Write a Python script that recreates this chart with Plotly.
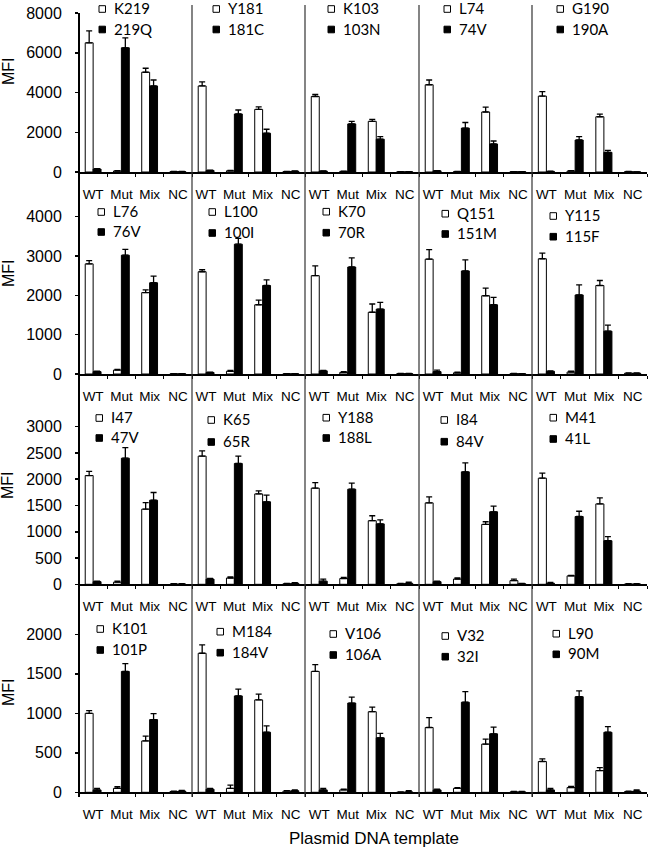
import plotly.graph_objects as go

W, H = 650, 847

categories = ["WT", "Mut", "Mix", "NC"]

wt_labels = ["K219", "Y181", "K103", "L74", "G190",
             "L76", "L100", "K70", "Q151", "Y115",
             "I47", "K65", "Y188", "I84", "M41",
             "K101", "M184", "V106", "V32", "L90"]
mut_labels = ["219Q", "181C", "103N", "74V", "190A",
              "76V", "100I", "70R", "151M", "115F",
              "47V", "65R", "188L", "84V", "41L",
              "101P", "184V", "106A", "32I", "90M"]

# white bars (wild-type probe) per panel: WT, Mut, Mix, NC
white_values = [[6500, 50, 5020, 20], [4330, 60, 3150, 20], [3800, 30, 2550, 10], [4390, 20, 3020, 15], [3820, 50, 2780, 20],
                [2800, 100, 2070, 5], [2600, 70, 1760, 5], [2500, 40, 1570, 10], [2920, 30, 1990, 10], [2930, 50, 2250, 20],
                [2070, 40, 1430, 5], [2440, 120, 1720, 10], [1830, 110, 1210, 10], [1550, 100, 1140, 70], [2020, 160, 1530, 5],
                [1000, 50, 650, 10], [1760, 50, 1170, 15], [1530, 30, 1020, 0], [820, 50, 610, 5], [390, 60, 275, 10]]
white_err = [[600, 20, 200, 10], [200, 20, 130, 10], [100, 10, 100, 5], [240, 10, 240, 5], [220, 20, 130, 5],
             [80, 20, 70, 5], [50, 20, 120, 5], [250, 20, 210, 5], [240, 20, 195, 5], [145, 20, 127, 5],
             [80, 20, 125, 5], [100, 20, 57, 5], [106, 20, 95, 5], [114, 20, 50, 30], [95, 10, 114, 5],
             [35, 20, 60, 5], [105, 40, 72, 5], [85, 10, 59, 5], [126, 10, 63, 5], [34, 15, 38, 5]]

# black bars (mutant probe)
black_values = [[150, 6250, 4330, 20], [80, 2920, 1950, 40], [50, 2420, 1650, 10], [60, 2210, 1410, 15], [30, 1610, 990, 5],
                [60, 3020, 2320, 5], [40, 3300, 2250, 5], [80, 2720, 1650, 10], [60, 2620, 1760, 5], [70, 2010, 1090, 20],
                [50, 2400, 1600, 5], [100, 2300, 1570, 20], [60, 1810, 1150, 20], [50, 2140, 1380, 10], [20, 1290, 830, 5],
                [30, 1530, 920, 15], [40, 1220, 760, 20], [30, 1130, 690, 5], [30, 1140, 740, 5], [30, 1210, 760, 15]]
black_err = [[20, 500, 300, 10], [10, 200, 200, 10], [10, 130, 130, 5], [10, 280, 150, 5], [10, 170, 100, 5],
             [10, 150, 170, 5], [10, 150, 145, 5], [10, 230, 170, 5], [40, 280, 186, 5], [10, 255, 153, 5],
             [10, 200, 147, 5], [10, 140, 127, 10], [40, 114, 76, 20], [10, 171, 108, 5], [15, 100, 76, 5],
             [20, 100, 76, 10], [10, 85, 80, 10], [20, 76, 55, 15], [10, 135, 85, 5], [20, 75, 71, 15]]

row_ymax = [8000, 4500, 3500, 2500]
row_ticks = [[0, 2000, 4000, 6000, 8000], [0, 1000, 2000, 3000, 4000],
             [0, 500, 1000, 1500, 2000, 2500, 3000], [0, 500, 1000, 1500, 2000]]

# ---- layout geometry (page pixels) ----
col_px = [(79, 192), (192, 305), (305, 419), (419, 532), (532, 647)]
row_zero_px = [172, 374, 584.3, 792.3]
row_top_px = [13, 197.0, 400.4, 594.8]
leg_sq_off = [20, 21, 23, 25, 25, 19, 17, 18, 23, 18, 17, 16, 18, 22, 18, 18, 25, 25, 23, 21]
leg_y = [(8, 28.5)] * 5 + [(211, 231), (211, 232), (210.7, 231.7), (212.7, 233), (215, 235.7),
                           (417, 437), (419, 441), (416.7, 437), (419, 440.7), (416.7, 438),
                           (628, 649), (630.7, 651.7), (633, 654), (635, 655.7), (632.7, 653.3)]
mfi_y = [71, 273, 485, 692]

FONT = "Liberation Sans, Arial, sans-serif"
LEGFONT = "Lato, Carlito, sans-serif"

def px_x(p):
    return p / W

def px_y(p):
    return 1 - p / H

fig = go.Figure()
layout = dict(
    width=W, height=H, margin=dict(l=0, r=0, t=0, b=0, autoexpand=False),
    paper_bgcolor="white", plot_bgcolor="white",
    barmode="group", bargap=0.44, bargroupgap=0.0, showlegend=False,
    font=dict(family=FONT, color="black"),
)
shapes = []
annotations = []

for i in range(20):
    r, c = divmod(i, 5)
    n = i + 1
    xa = "x" if n == 1 else f"x{n}"
    ya = "y" if n == 1 else f"y{n}"
    fig.add_trace(go.Bar(
        x=categories, y=white_values[i], xaxis=xa, yaxis=ya,
        marker=dict(color="white", line=dict(color="black", width=1)),
        error_y=dict(type="data", symmetric=False, array=white_err[i], arrayminus=[0] * 4,
                     color="black", thickness=1.3, width=3),
        name=wt_labels[i]))
    fig.add_trace(go.Bar(
        x=categories, y=black_values[i], xaxis=xa, yaxis=ya,
        marker=dict(color="black", line=dict(color="black", width=1)),
        error_y=dict(type="data", symmetric=False, array=black_err[i], arrayminus=[0] * 4,
                     color="black", thickness=1.3, width=3),
        name=mut_labels[i]))
    x0, x1 = col_px[c]
    layout["xaxis" if n == 1 else f"xaxis{n}"] = dict(
        domain=[px_x(x0), px_x(x1)], anchor=ya, type="category",
        range=[-0.5, 3.5], showline=True, linecolor="black", linewidth=1.5,
        ticks="outside", tickson="boundaries", ticklen=3, tickcolor="black",
        tickangle=0, automargin=False, ticklabelstandoff=9,
        tickfont=dict(size=13.5, family=FONT), showgrid=False, zeroline=False,
        fixedrange=True)
    yax = dict(
        domain=[px_y(row_zero_px[r]), px_y(row_top_px[r])], anchor=xa,
        range=[0, row_ymax[r]], showline=False, showgrid=False, zeroline=False,
        automargin=False, fixedrange=True)
    if c == 0:
        yax.update(tickmode="array", tickvals=row_ticks[r],
                   ticktext=[str(v) for v in row_ticks[r]],
                   ticks="outside", ticklen=3, tickcolor="black", tickwidth=1.5,
                   tickfont=dict(size=16, family=FONT), ticklabelstandoff=10)
    else:
        yax.update(showticklabels=False, ticks="")
    layout["yaxis" if n == 1 else f"yaxis{n}"] = yax

    # legend keys
    sx = x0 + leg_sq_off[i]
    ty1, ty2 = leg_y[i]
    for ty, fillc, txt in [(ty1, "white", wt_labels[i]), (ty2, "black", mut_labels[i])]:
        cy = ty + 1
        shapes.append(dict(type="rect", xref="paper", yref="paper",
                           x0=px_x(sx), x1=px_x(sx + 6.5), y0=px_y(cy + 3.3), y1=px_y(cy - 3.3),
                           fillcolor=fillc, line=dict(color="black", width=1)))
        annotations.append(dict(xref="paper", yref="paper", x=px_x(sx + 13), y=px_y(ty),
                                text=txt, showarrow=False, xanchor="left", yanchor="middle",
                                font=dict(size=15, family=LEGFONT, color="black")))

# vertical panel dividers / left axis
for k, (x0, _) in enumerate(col_px):
    shapes.append(dict(type="line", xref="paper", yref="paper",
                       x0=px_x(x0), x1=px_x(x0), y0=px_y(13 if k == 0 else 5), y1=px_y(797),
                       line=dict(color="black" if k == 0 else "#333333", width=2 if k == 0 else 1.2)))

for r in range(4):
    annotations.append(dict(xref="paper", yref="paper", x=px_x(8), y=px_y(mfi_y[r]),
                            text="MFI", showarrow=False, textangle=-90,
                            xanchor="center", yanchor="middle",
                            font=dict(size=16, family=FONT, color="black")))

annotations.append(dict(xref="paper", yref="paper", x=px_x(373.5), y=px_y(838),
                        text="Plasmid DNA template", showarrow=False,
                        xanchor="center", yanchor="middle",
                        font=dict(size=17, family=FONT, color="black")))

layout["shapes"] = shapes
layout["annotations"] = annotations
fig.update_layout(**layout)
fig.write_html("out.html", config={"displayModeBar": False, "staticPlot": True},
               post_script="document.body.style.margin='0px';document.body.style.overflow='hidden';")
